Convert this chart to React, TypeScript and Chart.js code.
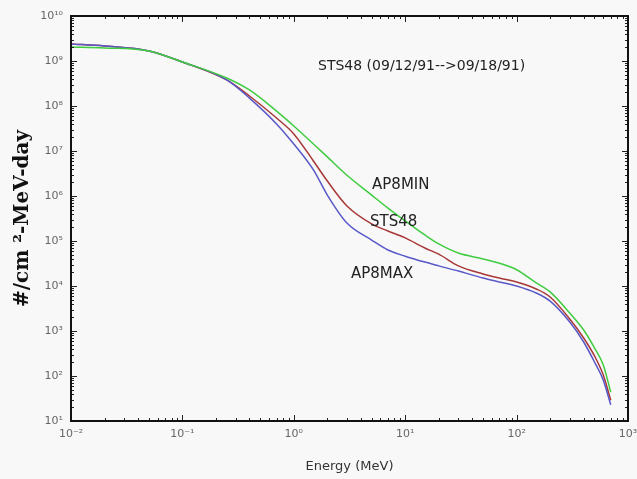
import { useEffect, useRef } from 'react';
import { Chart, registerables } from 'chart.js';

Chart.register(...registerables);

// Energy grid (MeV) shared by the three spectra
const ENERGY_MEV = [0.01, 0.02, 0.05, 0.1, 0.25, 0.4, 0.7, 1, 1.5, 2, 3, 5, 7, 10, 15, 20, 30, 50, 70, 100, 150, 200, 300, 400, 500, 600, 700];

// Proton fluence (#/cm^2-MeV-day)
const AP8MIN = [2.05e9, 1.95e9, 1.67e9, 9.5e8, 4.2e8, 2.27e8, 7.7e7, 3.6e7, 1.43e7, 7.4e6, 2.9e6, 1.05e6, 5.4e5, 2.8e5, 1.36e5, 8.6e4, 5.4e4, 4.0e4, 3.2e4, 2.3e4, 1.17e4, 7.4e3, 2.5e3, 1.05e3, 4.2e2, 1.75e2, 44];
const STS48 = [2.39e9, 2.15e9, 1.67e9, 9.5e8, 3.8e8, 1.67e8, 5.4e7, 2.4e7, 6.0e6, 2.15e6, 6.0e5, 2.4e5, 1.67e5, 1.17e5, 7.0e4, 5.1e4, 2.8e4, 1.85e4, 1.5e4, 1.23e4, 8.6e3, 5.7e3, 1.85e3, 7.0e2, 2.8e2, 1.05e2, 29];
const AP8MAX = [2.39e9, 2.15e9, 1.67e9, 9.5e8, 3.8e8, 1.5e8, 4.0e7, 1.43e7, 3.8e6, 1.05e6, 2.5e5, 1.05e5, 6.3e4, 4.6e4, 3.4e4, 2.8e4, 2.15e4, 1.5e4, 1.23e4, 1.0e4, 7.0e3, 4.6e3, 1.58e3, 5.7e2, 2.05e2, 81, 23];

// Tick labels
const X_MIN_EXP = -2;
const X_TICK_LABELS = ['10⁻²', '10⁻¹', '10⁰', '10¹', '10²', '10³'];
const Y_MIN_EXP = 1;
const Y_TICK_LABELS = ['10¹', '10²', '10³', '10⁴', '10⁵', '10⁶', '10⁷', '10⁸', '10⁹', '10¹⁰'];

// In-plot text annotations
const NOTE_TEXTS = ['STS48 (09/12/91-->09/18/91)', 'AP8MIN', 'STS48', 'AP8MAX'];
const NOTE_ENERGY = [1.65, 5.04, 4.83, 3.26];
const NOTE_FLUX = [7.74e8, 1.75e6, 2.64e5, 1.85e4];

function logTicks(minExp: number, count: number) {
  const ticks: { value: number }[] = [];
  for (let e = minExp; e < minExp + count - 1; e++) {
    for (let k = 1; k < 10; k++) ticks.push({ value: k * Math.pow(10, e) });
  }
  ticks.push({ value: Math.pow(10, minExp + count - 1) });
  return ticks;
}

function majorLabel(v: number, minExp: number, labels: string[]) {
  const l = Math.log10(v);
  const e = Math.round(l);
  if (Math.abs(l - e) < 1e-6) return labels[e - minExp] ?? '';
  return '';
}

function isMajor(v: number) {
  const l = Math.log10(v);
  return Math.abs(l - Math.round(l)) < 1e-6;
}

const decorPlugin = {
  id: 'decor',
  beforeDraw(chart: any) {
    const { ctx, width, height } = chart;
    ctx.save();
    ctx.fillStyle = '#f8f8f8';
    ctx.fillRect(0, 0, width, height);
    ctx.restore();
  },
  afterDraw(chart: any) {
    const { ctx, chartArea: a, scales } = chart;
    const xs = scales.x;
    const ys = scales.y;
    ctx.save();
    ctx.strokeStyle = '#222';
    ctx.lineWidth = 1;
    ctx.beginPath();
    for (const t of xs.ticks) {
      const px = Math.round(xs.getPixelForValue(t.value)) + 0.5;
      const len = isMajor(t.value) ? 6 : 3;
      ctx.moveTo(px, a.bottom);
      ctx.lineTo(px, a.bottom - len);
      ctx.moveTo(px, a.top);
      ctx.lineTo(px, a.top + len);
    }
    for (const t of ys.ticks) {
      const py = Math.round(ys.getPixelForValue(t.value)) + 0.5;
      const len = isMajor(t.value) ? 6 : 3;
      ctx.moveTo(a.left, py);
      ctx.lineTo(a.left + len, py);
      ctx.moveTo(a.right, py);
      ctx.lineTo(a.right - len, py);
    }
    ctx.stroke();

    ctx.lineWidth = 2;
    ctx.strokeStyle = '#111';
    ctx.strokeRect(a.left, a.top, a.right - a.left, a.bottom - a.top);

    ctx.fillStyle = '#222';
    ctx.textAlign = 'left';
    ctx.textBaseline = 'middle';
    NOTE_TEXTS.forEach((txt, i) => {
      ctx.font = i === 0 ? '14px "DejaVu Sans"' : '15px "DejaVu Sans"';
      ctx.fillText(txt, xs.getPixelForValue(NOTE_ENERGY[i]), ys.getPixelForValue(NOTE_FLUX[i]));
    });
    ctx.restore();
  },
};

export default function App() {
  const ref = useRef<HTMLCanvasElement>(null);

  useEffect(() => {
    const toPts = (arr: number[]) => ENERGY_MEV.map((e, i) => ({ x: e, y: arr[i] }));
    const line = (label: string, arr: number[], color: string) => ({
      label,
      data: toPts(arr),
      borderColor: color,
      backgroundColor: color,
      borderWidth: 1.5,
      pointRadius: 0,
      fill: false,
      cubicInterpolationMode: 'monotone' as const,
    });

    const chart = new Chart(ref.current!, {
      type: 'line',
      data: {
        datasets: [
          line('AP8MIN', AP8MIN, '#3fcc3f'),
          line('AP8MAX', AP8MAX, '#5858c8'),
          line('STS48', STS48, '#a83838'),
        ],
      },
      options: {
        responsive: false,
        animation: false,
        layout: { padding: { left: 0, right: 9, top: 16, bottom: 0 } },
        plugins: {
          legend: { display: false },
          tooltip: { enabled: false },
        },
        scales: {
          x: {
            type: 'logarithmic',
            min: 0.01,
            max: 1000,
            afterBuildTicks: (axis: any) => {
              axis.ticks = logTicks(X_MIN_EXP, X_TICK_LABELS.length);
            },
            afterFit: (s: any) => {
              s.height = 58;
              s.paddingLeft = 0;
              s.paddingRight = 0;
            },
            grid: { display: false, drawTicks: false },
            border: { display: false },
            ticks: {
              autoSkip: false,
              maxRotation: 0,
              minRotation: 0,
              padding: 7,
              color: '#666',
              font: { family: 'DejaVu Sans', size: 11 },
              callback: (v: any) => majorLabel(Number(v), X_MIN_EXP, X_TICK_LABELS),
            },
            title: {
              display: true,
              text: 'Energy (MeV)',
              color: '#333',
              font: { family: 'DejaVu Sans', size: 13 },
              padding: { top: 0, bottom: 5 },
            },
          },
          y: {
            type: 'logarithmic',
            min: 10,
            max: 1e10,
            afterBuildTicks: (axis: any) => {
              axis.ticks = logTicks(Y_MIN_EXP, Y_TICK_LABELS.length);
            },
            afterFit: (s: any) => {
              s.width = 71;
              s.paddingTop = 0;
              s.paddingBottom = 0;
            },
            grid: { display: false, drawTicks: false },
            border: { display: false },
            ticks: {
              autoSkip: false,
              padding: 8,
              color: '#666',
              font: { family: 'DejaVu Sans', size: 11 },
              callback: (v: any) => majorLabel(Number(v), Y_MIN_EXP, Y_TICK_LABELS),
            },
            title: {
              display: true,
              text: '#/cm ²-MeV-day',
              color: '#111',
              font: { family: 'DejaVu Serif', size: 20, weight: 'bold' },
              padding: { top: 11, bottom: 0 },
            },
          },
        },
      },
      plugins: [decorPlugin],
    } as any);

    return () => chart.destroy();
  }, []);

  return (
    <div style={{ position: 'fixed', left: 0, top: 0, width: 637, height: 479 }}>
      <canvas ref={ref} width={637} height={479} style={{ display: 'block' }} />
    </div>
  );
}
